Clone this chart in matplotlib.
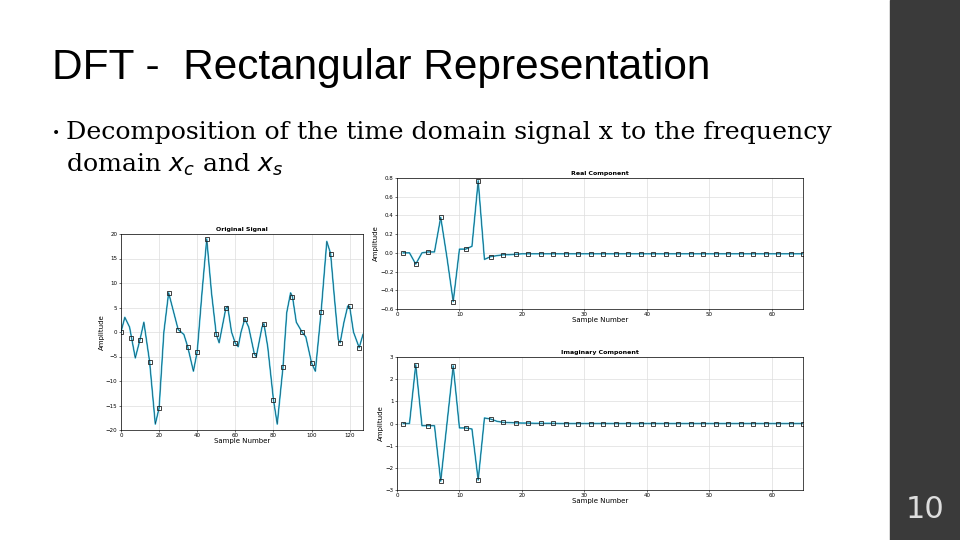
import matplotlib
matplotlib.use("Agg")
import matplotlib.pyplot as plt
from matplotlib.patches import Rectangle

# Original signal (curve key points) and sampled markers
orig_x = [0,2,4.5,7.5,10,12,15,18,20,22.5,25,27,30,33,35,38,40,42.5,45,47.5,50,51.5,55,56,58,60,61.5,63,65,67,70,71,74,75,77,80,82,85,87,89,90,92,95,97,100,102,104,105,108,110,112,114,115,117,119,120,122,125,127]
orig_y = [0,3,1,-5.3,-1.5,2,-6,-18.8,-15.5,0,8,5,0.5,-0.5,-3,-8,-4,8,19,8,-0.5,-2.2,4.8,5.2,0,-2.3,-3,0,2.7,1,-4.5,-5,1,1.7,-3,-13.8,-18.8,-7.2,4,8,7.2,2,0,-1,-6.3,-8,0,4,18.5,16,7,-1.5,-2.2,2,5.3,5.2,0,-3.2,-0.5]
mark_x = list(range(0, 126, 5))
mark_y = [0,-1.2,-1.6,-6.1,-15.5,8,0.5,-3,-4.1,18.9,-0.4,4.8,-2.3,2.7,-4.6,1.7,-13.8,-7.2,7.2,0,-6.4,4,16,-2.2,5.3,-3.3]

k = list(range(1, 66))
real_vals = [0,0,-0.12,0,0.01,0.01,0.38,-0.05,-0.52,0.04,0.04,0.07,0.77,-0.07,-0.04,-0.03,-0.02,-0.02,-0.015] + [-0.01]*46
imag_vals = [0,0,2.65,-0.1,-0.1,-0.1,-2.6,0,2.6,-0.2,-0.2,-0.25,-2.55,0.25,0.2,0.1,0.05,0.04,0.03,0.02,0.02,0.01,0.01,0.01,0.01] + [0]*40

fig = plt.figure(figsize=(9.6, 5.4), dpi=100)
fig.patch.set_facecolor("white")
fig.add_artist(Rectangle((890/960, 0), 70/960, 1, transform=fig.transFigure, color="#3a3a3a", zorder=0))
fig.text(925/960, 1-510/540, "10", color="#dddddd", fontsize=22, ha="center", va="center")
fig.text(52/960, 1-68/540, "DFT -  Rectangular Representation", fontsize=30.5, family="Liberation Sans", va="center")
fig.text(52/960, 1-133/540, "•", fontsize=10, va="center")
fig.text(66/960, 1-133/540, "Decomposition of the time domain signal x to the frequency", fontsize=18.2, family="DejaVu Serif", va="center")
fig.text(66/960, 1-165/540, r"domain $x_c$ and $x_s$", fontsize=18.2, family="DejaVu Serif", va="center")

line_c = "#3cc6e8"

def style(ax, title):
    ax.grid(True, color="#dddddd", lw=0.5)
    ax.tick_params(labelsize=4, length=1.5, width=0.4, pad=1)
    for s in ax.spines.values():
        s.set_linewidth(0.5)
    ax.set_title(title, fontsize=4.5, fontweight="bold", pad=2)
    ax.set_xlabel("Sample Number", fontsize=5, labelpad=0)
    ax.set_ylabel("Amplitude", fontsize=5, labelpad=1)

ax1 = fig.add_axes([121/960, (540-430)/540, 242/960, 196/540])
ax1.plot(orig_x, orig_y, color=line_c, lw=1.2)
ax1.plot(orig_x, orig_y, color="#1a3a4a", lw=0.4)
ax1.plot(mark_x, mark_y, ls="none", marker="s", ms=2.2, mfc="none", mec="#222222", mew=0.6)
ax1.set_xlim(0, 127); ax1.set_ylim(-20, 20)
ax1.set_xticks(range(0, 121, 20)); ax1.set_yticks(range(-20, 21, 5))
style(ax1, "Original Signal")

ax2 = fig.add_axes([397/960, (540-309)/540, 406/960, 131/540])
ax2.plot(k, real_vals, color=line_c, lw=1.2)
ax2.plot(k, real_vals, color="#1a3a4a", lw=0.4)
ax2.plot(k[::2], real_vals[::2], ls="none", marker="s", ms=2.2, mfc="none", mec="#222222", mew=0.6)
ax2.set_xlim(0, 65); ax2.set_ylim(-0.6, 0.8)
ax2.set_yticks([-0.6,-0.4,-0.2,0,0.2,0.4,0.6,0.8])
style(ax2, "Real Component")

ax3 = fig.add_axes([397/960, (540-490)/540, 406/960, 133/540])
ax3.plot(k, imag_vals, color=line_c, lw=1.2)
ax3.plot(k, imag_vals, color="#1a3a4a", lw=0.4)
ax3.plot(k[::2], imag_vals[::2], ls="none", marker="s", ms=2.2, mfc="none", mec="#222222", mew=0.6)
ax3.set_xlim(0, 65); ax3.set_ylim(-3, 3)
ax3.set_yticks(range(-3, 4))
style(ax3, "Imaginary Component")

fig.savefig("out.png", dpi=100)
